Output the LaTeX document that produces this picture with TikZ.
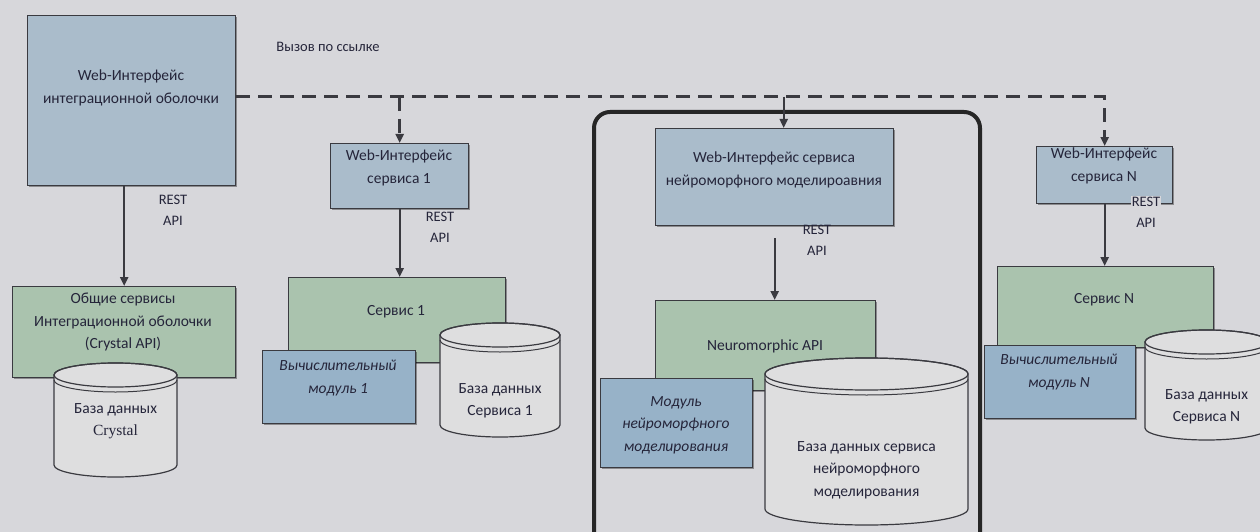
\documentclass[tikz,border=0pt]{standalone}
\usepackage{fontspec}
\setmainfont{Carlito}
\newfontfamily\serifcr{Liberation Serif}
\usetikzlibrary{arrows.meta,shadows}
\definecolor{bgc}{HTML}{D7D7DB}
\definecolor{webc}{HTML}{AABCCB}
\definecolor{srvc}{HTML}{AAC3AE}
\definecolor{modc}{HTML}{97B2C8}
\definecolor{dbc}{HTML}{DEDEDF}
\definecolor{linec}{HTML}{3A3A40}
\definecolor{txtc}{HTML}{25253A}
\tikzset{
  box/.style={draw=linec, line width=1.4pt, inner sep=0pt,
    drop shadow={shadow xshift=1.5pt, shadow yshift=-1.5pt, opacity=0.35, fill=black}},
  webbox/.style={box, fill=webc},
  srvbox/.style={box, fill=srvc},
  modbox/.style={box, fill=modc},
  txt/.style={align=center, text=txtc, font=\fontsize{15.5}{22.5}\selectfont, inner sep=0pt},
  itxt/.style={txt, font=\fontsize{15.5}{22.5}\selectfont\itshape},
  small/.style={align=center, text=txtc, font=\fontsize{14.5}{21}\selectfont, inner sep=1pt},
  dbfill/.style={fill=dbc, draw=linec, line width=1.2pt},
  arr/.style={draw=linec, line width=2.2pt, -{Triangle[length=9pt,width=8pt]}},
  darr/.style={draw=linec, line width=3pt, dash pattern=on 14pt off 8pt},
  grpframe/.style={draw=black!85, line width=4pt, rounded corners=16pt, inner sep=0pt}
}
\newcommand\dbcyl[8]{%
  \filldraw[dbfill] (#2,{#4+#6}) -- (#2,{#5-#6})
    arc[start angle=180,end angle=0,x radius={(#3-#2)/2},y radius=#6]
    -- (#3,{#4+#6})
    arc[start angle=0,end angle=-180,x radius={(#3-#2)/2},y radius=#6] -- cycle;
  \draw[draw=linec, line width=1.2pt] ({(#2+#3)/2},{#4+#6}) ellipse[x radius={(#3-#2)/2},y radius=#6];
  \draw[draw=linec, line width=1pt] (#2,{#4+#6+5})
    arc[start angle=180,end angle=0,x radius={(#3-#2)/2},y radius=#6];
  \node[txt] (#1) at ({(#2+#3)/2},#7) {#8};
}
\begin{document}
\begin{tikzpicture}[x=1pt,y=-1pt]
\useasboundingbox (0,0) rectangle (1260,532);
\fill[bgc] (0,0) rectangle (1260,532);

% group frame
\node[grpframe, minimum width=386pt, minimum height=440pt, anchor=north west] (grp) at (592,110) {};

% ---- Integration shell ----
\node[webbox, minimum width=208pt, minimum height=170pt, anchor=north west] (webint) at (27,15) {};
\node[txt] (webintT) at (131,88) {Web-Интерфейс\\интеграционной оболочки};
\node[small] (call) at (328,47) {Вызов по ссылке};
\node[srvbox, minimum width=223pt, minimum height=91pt, anchor=north west] (shared) at (12,286) {};
\node[txt] (sharedT) at (123,322) {Общие сервисы\\Интеграционной оболочки\\(Crystal API)};
\dbcyl{dbcr}{54}{177}{363}{477}{12}{421}{База данных\\{\serifcr Crystal}}
\node[small] (rest0) at (173,210) {REST\\API};

% ---- Service 1 ----
\node[webbox, minimum width=138pt, minimum height=65pt, anchor=north west] (web1) at (330,143) {};
\node[txt] (web1T) at (399,168) {Web-Интерфейс\\сервиса 1};
\node[srvbox, minimum width=217pt, minimum height=85pt, anchor=north west] (s1) at (288,277) {};
\node[txt] (s1T) at (396,312) {Сервис 1};
\node[modbox, minimum width=153pt, minimum height=73pt, anchor=north west] (m1) at (262,350) {};
\node[itxt] (m1T) at (338,378) {Вычислительный\\модуль 1};
\dbcyl{db1}{440}{560}{323}{437}{12}{401}{База данных\\Сервиса 1}
\node[small] (rest1) at (440,227) {REST\\API};

% ---- Neuromorphic service ----
\node[webbox, minimum width=238pt, minimum height=97pt, anchor=north west] (webneu) at (655,128) {};
\node[txt] (webneuT) at (774,170) {Web-Интерфейс сервиса\\нейроморфного моделироавния};
\node[srvbox, minimum width=220pt, minimum height=90pt, anchor=north west] (neu) at (655,300) {};
\node[txt] (neuT) at (765,346) {Neuromorphic API};
\node[modbox, minimum width=152pt, minimum height=89pt, anchor=north west] (mneu) at (600,378) {};
\node[itxt] (mneuT) at (676,425) {Модуль\\нейроморфного\\моделирования};
\dbcyl{dbneu}{765}{968}{358}{525}{16}{470}{База данных сервиса\\нейроморфного\\моделирования}
\node[small] (restneu) at (817,240) {REST\\API};

% ---- Service N ----
\node[webbox, minimum width=136pt, minimum height=57pt, anchor=north west] (webN) at (1036,146) {};
\node[txt] (webNT) at (1104,166) {Web-Интерфейс\\сервиса N};
\node[srvbox, minimum width=216pt, minimum height=81pt, anchor=north west] (sN) at (997,266) {};
\node[txt] (sNT) at (1104,300) {Сервис N};
\node[modbox, minimum width=151pt, minimum height=73pt, anchor=north west] (mN) at (984,345) {};
\node[itxt] (mNT) at (1059,372) {Вычислительный\\модуль N};
\dbcyl{dbN}{1145}{1268}{330}{440}{12}{407}{База данных\\Сервиса N}
\node[small, fill=bgc] (restN) at (1146,212) {REST\\API};

% ---- connectors ----
\coordinate (d0) at ([yshift=4pt]webint.east);
\draw[darr] (d0) -| ([yshift=6pt]webN.north);
\draw[arr] ([yshift=6pt]webN.north) -- (webN.north);
\draw[darr] (web1.north |- d0) -- ([yshift=7pt]web1.north);
\draw[arr] ([yshift=7pt]web1.north) -- (web1.north);
\coordinate (dn) at ([xshift=9pt]webneu.north |- d0);
\draw[draw=linec, line width=2pt, -{Triangle[length=9pt,width=8pt]}] (dn) -- ([xshift=9pt]webneu.north);

\draw[arr] (shared.north |- webint.south) -- (shared.north);
\draw[arr] (web1.south) -- (web1.south |- s1.north);
\draw[arr] ([yshift=-12pt]webneu.south) -- (webneu.south |- neu.north);
\draw[arr] (webN.south) -- (webN.south |- sN.north);
\end{tikzpicture}
\end{document}
